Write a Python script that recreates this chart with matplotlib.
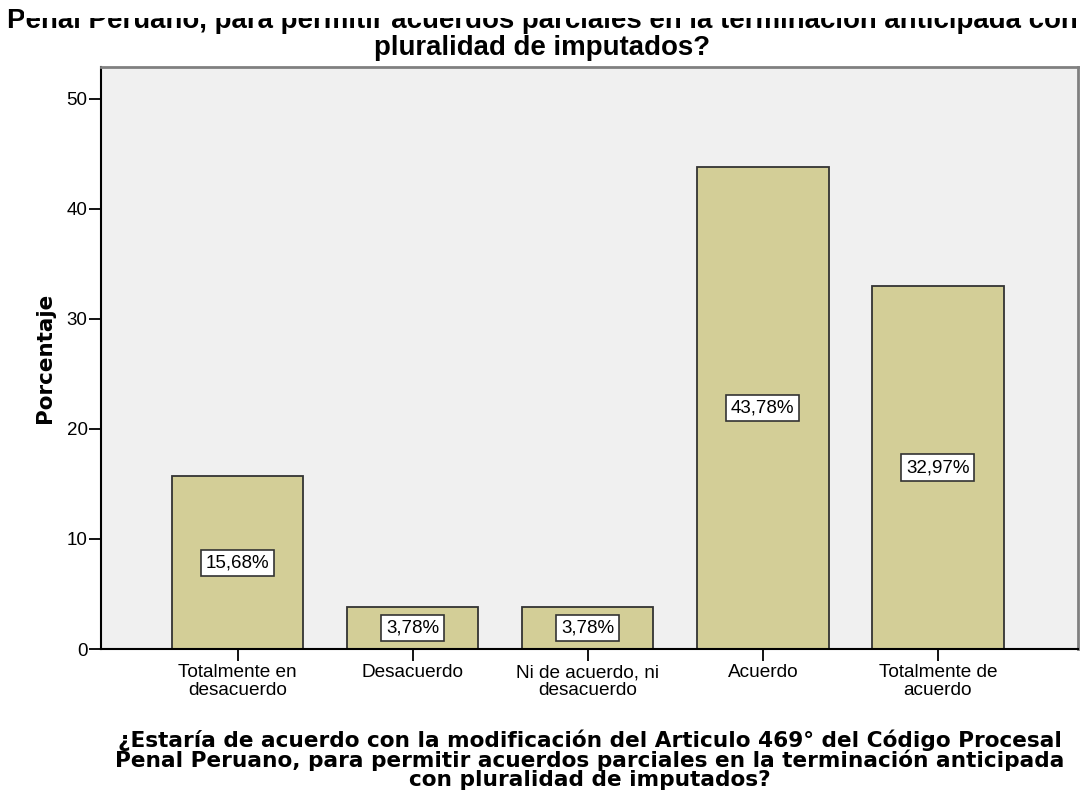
import matplotlib
matplotlib.use("Agg")
import matplotlib.pyplot as plt
from matplotlib import font_manager as fm
from matplotlib.patches import Rectangle

# ---- data ----
categories = ["Totalmente en\ndesacuerdo", "Desacuerdo", "Ni de acuerdo, ni\ndesacuerdo",
              "Acuerdo", "Totalmente de\nacuerdo"]
values = [15.68, 3.78, 3.78, 43.78, 32.97]
yticks = [0, 10, 20, 30, 40, 50]
title_text = ("Penal Peruano, para permitir acuerdos parciales en la terminación anticipada con\n"
              "pluralidad de imputados?")
xlabel_text = ("¿Estaría de acuerdo con la modificación del Articulo 469° del Código Procesal\n"
               "Penal Peruano, para permitir acuerdos parciales en la terminación anticipada\n"
               "con pluralidad de imputados?")
ylabel_text = "Porcentaje"

# ---- fonts ----
names = {f.name for f in fm.fontManager.ttflist}
if "Liberation Sans Narrow" in names:
    title_family, title_size, title_ls = ["Liberation Sans Narrow", "DejaVu Sans"], 24, 0.816
else:
    title_family, title_size, title_ls = ["Liberation Sans", "DejaVu Sans"], 19.9, 1.05
sans = ["Liberation Sans", "DejaVu Sans"]
bold_lab = ["DejaVu Sans"]

W, H = 1083, 797
fig = plt.figure(figsize=(W / 100, H / 100), dpi=100, facecolor="white")
ax = fig.add_axes([101 / W, 148 / H, 977 / W, 582 / H])
ax.set_facecolor("#F0F0F0")

x = list(range(len(values)))
bars = ax.bar(x, values, width=0.751, color="#D3CE97", edgecolor="#333333",
              linewidth=1.3, zorder=2)

for xi, v in zip(x, values):
    ax.text(xi, v / 2, f"{v:.2f}".replace(".", ",") + "%", ha="center", va="center",
            family=sans, fontsize=13.5, color="black", zorder=3,
            bbox=dict(boxstyle="square,pad=0.25", facecolor="white",
                      edgecolor="#333333", linewidth=1.2))

ax.set_xlim(-0.78, 4.80)
ax.set_ylim(0, 52.9)
ax.set_yticks(yticks)
ax.set_yticklabels([str(t) for t in yticks], family=sans, fontsize=13.5)
ax.set_xticks(x)
ax.set_xticklabels(categories, family=sans, fontsize=13.7, linespacing=1.05)
ax.tick_params(axis="both", direction="out", length=8.6, width=1.3, color="black")
ax.tick_params(axis="y", pad=1)
ax.tick_params(axis="x", pad=2.5)

for s in ["left", "bottom"]:
    ax.spines[s].set_color("black")
    ax.spines[s].set_linewidth(1.5)
for s in ["top", "right"]:
    ax.spines[s].set_color("#808080")
    ax.spines[s].set_linewidth(2)

ax.set_ylabel(ylabel_text, family=bold_lab, fontweight="bold", fontsize=15.5,
              ha="center", va="center")
ax.yaxis.set_label_coords(-0.0573, 0.5)

ax.set_xlabel(xlabel_text, family=bold_lab, fontweight="bold", fontsize=15.6,
              ha="center", va="baseline", linespacing=0.93, multialignment="center")
ax.xaxis.set_label_coords(0.5, (11 - 148) / 582)

fig.text(542 / W, 1 - 55 / H, title_text, family=title_family, fontweight="bold",
         fontsize=title_size, ha="center", va="baseline", linespacing=title_ls,
         multialignment="center", zorder=3)

# white band hiding the upper part of the clipped title line
fig.add_artist(Rectangle((24 / W, 1 - 18 / H), 1, 18 / H, transform=fig.transFigure,
                         facecolor="white", edgecolor="none", zorder=10))

fig.savefig("out.png", dpi=100, facecolor="white")
